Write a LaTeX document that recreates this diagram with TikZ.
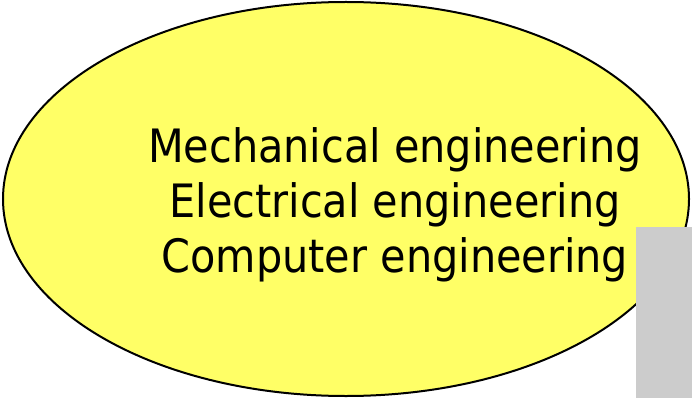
\documentclass[tikz,border=0pt]{standalone}
\usepackage{fontspec}
\setmainfont{DejaVu Sans Condensed}
\usetikzlibrary{shapes.geometric}
\tikzset{
  blob/.style={ellipse, draw=black, line width=2pt, fill=yellowfill, minimum width=686pt, minimum height=394pt, inner sep=0pt},
  panel/.style={fill=panelgray, draw=none, inner sep=0pt, anchor=north west, minimum width=60pt, minimum height=175pt},
  label/.style={font=\fontsize{46pt}{55pt}\selectfont, align=center, inner sep=0pt}
}
\definecolor{yellowfill}{HTML}{FFFF66}
\definecolor{panelgray}{HTML}{CCCCCC}
\begin{document}
\begin{tikzpicture}[x=1pt,y=-1pt]
\useasboundingbox (0,0) rectangle (692,398);
\node[blob] (oval) at (346,199) {};
\node[label, anchor=base] (mid) at (395,217) {Electrical engineering};
\node[label, anchor=base] (top) at (395,162) {Mechanical engineering};
\node[label, anchor=base] (bot) at (395,272) {Computer engineering};
\node[panel] (gray) at (636,227) {};
\end{tikzpicture}
\end{document}
